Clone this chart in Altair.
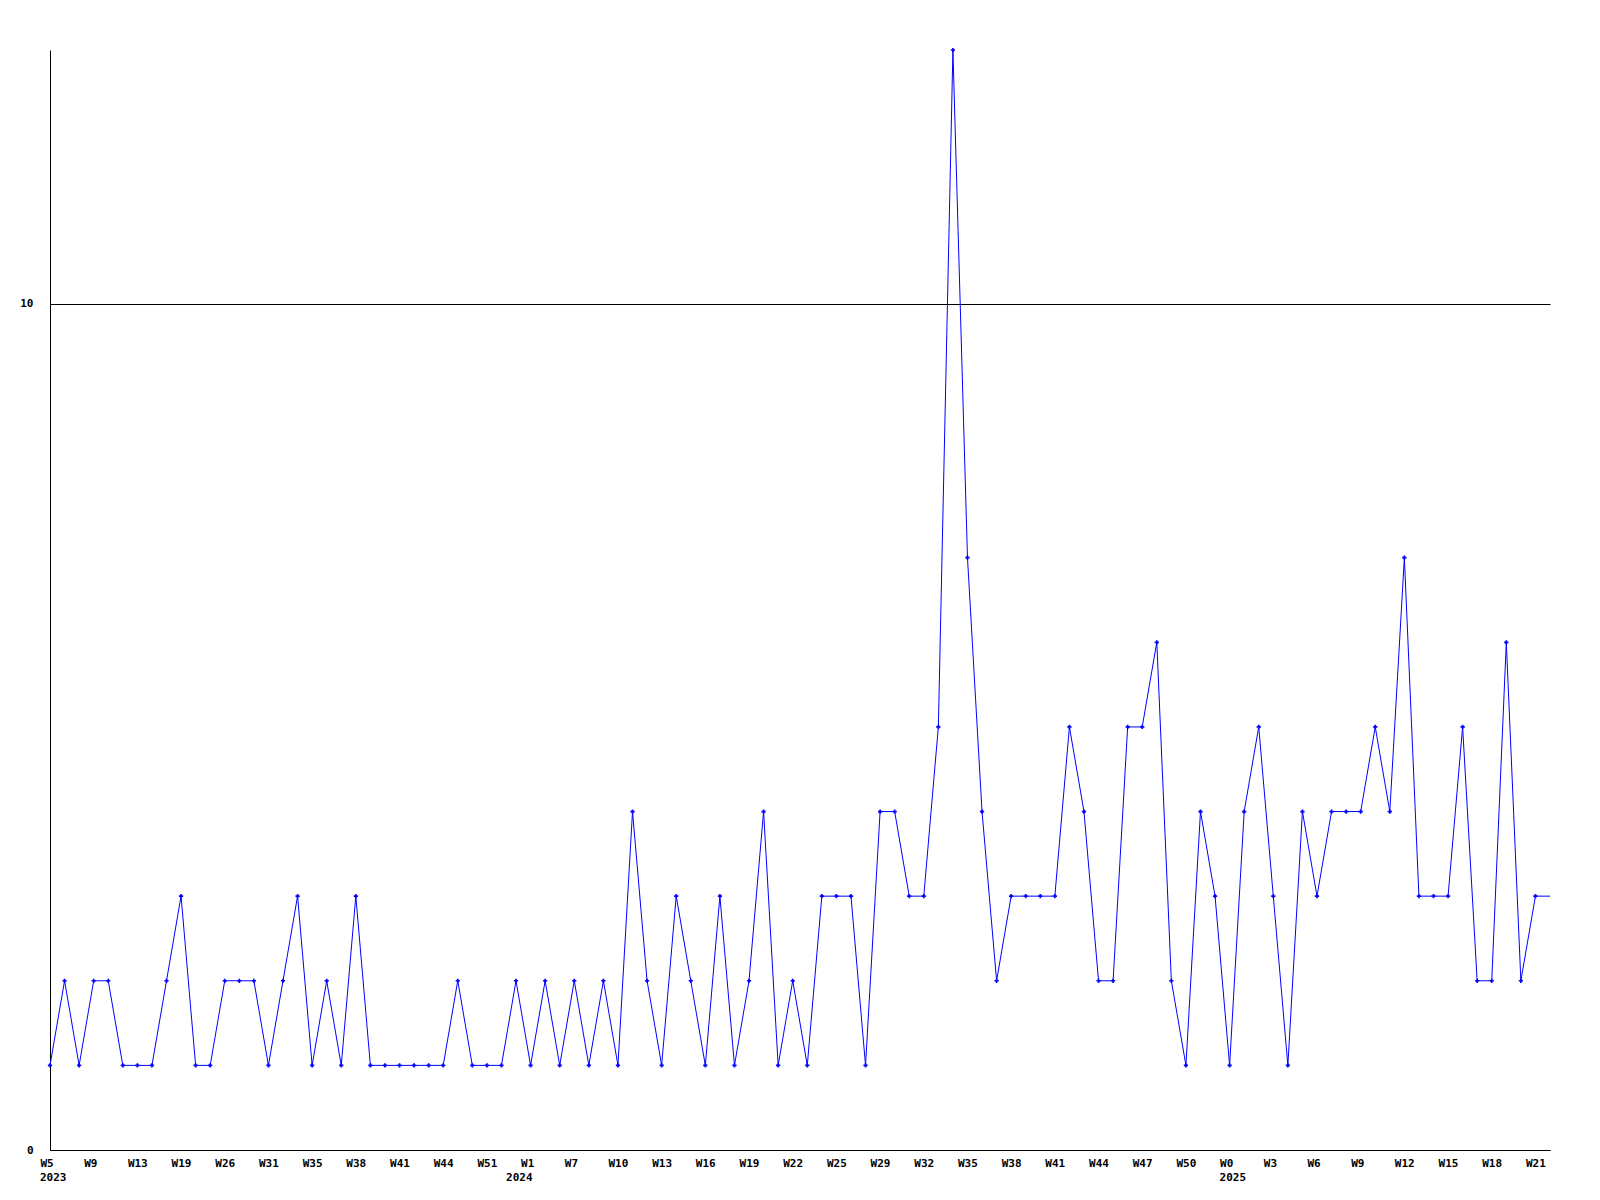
import altair as alt
import pandas as pd

# Weekly values, one per point
values = [1, 2, 1, 2, 2, 1, 1, 1, 2, 3,
          1, 1, 2, 2, 2, 1, 2, 3, 1, 2,
          1, 3, 1, 1, 1, 1, 1, 1, 2, 1,
          1, 1, 2, 1, 2, 1, 2, 1, 2, 1,
          4, 2, 1, 3, 2, 1, 3, 1, 2, 4,
          1, 2, 1, 3, 3, 3, 1, 4, 4, 3,
          3, 5, 13, 7, 4, 2, 3, 3, 3, 3,
          5, 4, 2, 2, 5, 5, 6, 2, 1, 4,
          3, 1, 4, 5, 3, 1, 4, 3, 4, 4,
          4, 5, 4, 7, 3, 3, 3, 5, 2, 2,
          6, 2, 3, 3]

# Tick labels, one every 3 points
week_labels = ["W5", "W9", "W13", "W19", "W26", "W31", "W35", "W38", "W41", "W44",
               "W51", "W1", "W7", "W10", "W13", "W16", "W19", "W22", "W25", "W29",
               "W32", "W35", "W38", "W41", "W44", "W47", "W50", "W0", "W3", "W6",
               "W9", "W12", "W15", "W18", "W21"]

year_labels = ["2023", "2024", "2025"]
year_points = [0, 32, 81]

df = pd.DataFrame({"i": list(range(len(values))), "v": values})
ydf = pd.DataFrame({"i": year_points, "t": year_labels})

FONT = "DejaVu Sans Mono"
n = len(values)
xscale = alt.Scale(domain=[0, n - 1], nice=False, zero=False)
yscale = alt.Scale(domain=[0, 13], nice=False)

label_expr = "[" + ",".join(f"'{w}'" for w in week_labels) + "][round(datum.value/3)]"

x_axis = alt.Axis(values=list(range(0, n - 1, 3)), labelExpr=label_expr, title=None,
                  grid=False, ticks=False, labelAlign="left", labelOffset=-10,
                  labelPadding=7, labelFont=FONT, labelFontSize=11, labelFontWeight="bold",
                  labelColor="black", domainColor="black", domainWidth=1,
                  labelOverlap=False, labelBound=False, labelFlush=False)
y_axis = alt.Axis(values=[0, 10], format="d", grid=True, gridColor="black", gridOpacity=1,
                  gridWidth=1, ticks=False, labelPadding=17, labelFont=FONT, labelFontSize=11,
                  labelFontWeight="bold", labelColor="black", domainColor="black",
                  domainWidth=1, title=None)

line = alt.Chart(df).mark_line(color="#0000ff", strokeWidth=1).encode(
    x=alt.X("i:Q", scale=xscale, axis=x_axis),
    y=alt.Y("v:Q", scale=yscale, axis=y_axis),
)
points = alt.Chart(df).transform_filter(f"datum.i < {n - 1}").mark_point(
    shape="cross", filled=True, size=18, color="#0000ff", opacity=1).encode(
    x=alt.X("i:Q", scale=xscale),
    y=alt.Y("v:Q", scale=yscale),
)
years = alt.Chart(ydf).mark_text(align="left", baseline="top", dx=-10, font=FONT, fontSize=11,
                                 fontWeight="bold", color="black").encode(
    x=alt.X("i:Q", scale=xscale),
    y=alt.value(1122),
    text="t:N",
)

chart = alt.layer(line, points, years).properties(
    width=1500, height=1100,
    autosize=alt.AutoSizeParams(type="none"),
    padding={"left": 42, "top": 42, "right": 40, "bottom": 40},
    background="white",
).configure_view(stroke=None)

chart.save("out.html", embed_options={"renderer": "svg", "actions": False})
